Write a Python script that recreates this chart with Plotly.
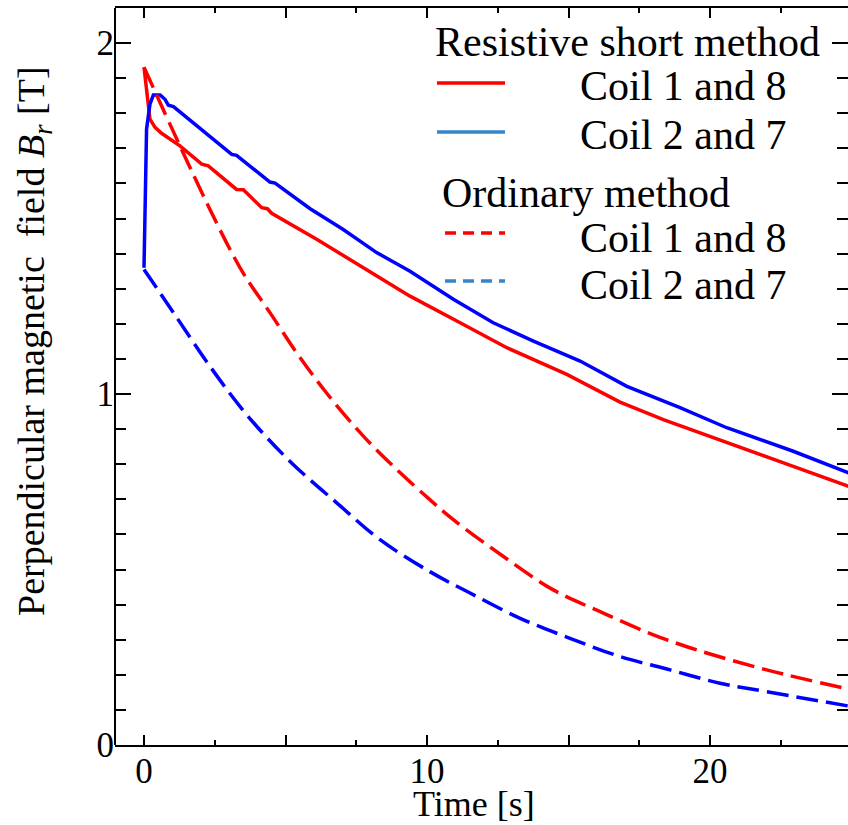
import plotly.graph_objects as go

# ---- data ----
t_rs_c18 = [0, 0.21, 0.39, 0.62, 1.27, 2.04, 2.27, 3.27, 3.51, 4.16, 4.36, 4.51, 6.10, 8.22,
            9.4, 11.17, 12.82, 14.94, 16.82, 18.35, 20.59, 22.94, 24.9]
b_rs_c18 = [1.931, 1.783, 1.760, 1.743, 1.707, 1.655, 1.650, 1.583, 1.582, 1.531, 1.528, 1.515,
            1.441, 1.336, 1.279, 1.203, 1.132, 1.056, 0.977, 0.927, 0.861, 0.794, 0.737]

t_rs_c27 = [0, 0.09, 0.21, 0.33, 0.57, 0.74, 0.86, 1.04, 3.10, 3.27, 4.45, 4.63, 5.87, 7.04,
            8.22, 9.4, 10.93, 12.34, 13.76, 15.41, 17.06, 18.94, 20.59, 22.94, 24.9]
b_rs_c27 = [1.360, 1.755, 1.826, 1.852, 1.852, 1.840, 1.823, 1.819, 1.683, 1.680, 1.604, 1.601,
            1.528, 1.469, 1.403, 1.350, 1.270, 1.203, 1.151, 1.094, 1.022, 0.961, 0.904, 0.837, 0.775]

t_or_c18 = [0, 1.27, 2.27, 3.04, 3.57, 4.45, 5.39, 6.45, 7.75, 8.93, 10.1, 10.93, 12.7, 14.46,
            16.23, 18.0, 19.53, 22.0, 24.9]
b_or_c18 = [1.931, 1.707, 1.536, 1.412, 1.336, 1.232, 1.118, 1.003, 0.880, 0.785, 0.699, 0.642,
            0.537, 0.442, 0.376, 0.314, 0.271, 0.214, 0.159]

t_or_c27 = [0, 1.04, 2.33, 3.63, 5.16, 6.81, 8.34, 10.1, 11.52, 13.29, 15.05, 16.82, 18.59,
            20.35, 22.0, 24.9]
b_or_c27 = [1.355, 1.232, 1.079, 0.941, 0.808, 0.690, 0.585, 0.494, 0.433, 0.361, 0.304, 0.252,
            0.214, 0.176, 0.152, 0.111]

x_tickvals = [0, 5, 10, 15, 20, 25]
x_ticktext = ["0", "", "10", "", "20", ""]
y_tickvals = [0, 1, 2]
y_ticktext = ["0", "1", "2"]

legend_groups = ["Resistive short method", "Ordinary method"]
legend_labels = ["Coil 1 and 8", "Coil 2 and 7"]

RED = "#ff0000"
BLUE = "#0000ff"
LEG_BLUE = "#3585c8"
FONT = "Liberation Serif"

W, H = 848, 825
L, R, T, B = 115, 0, 8, 80
PW, PH = W - L - R, H - T - B


def px(x):
    return (x - L) / PW


def py(y):
    return (T + PH - y) / PH


fig = go.Figure()
dash_main = "22px,8px"
fig.add_trace(go.Scatter(x=t_rs_c18, y=b_rs_c18, mode="lines",
                         line=dict(color=RED, width=3.5), showlegend=False))
fig.add_trace(go.Scatter(x=t_rs_c27, y=b_rs_c27, mode="lines",
                         line=dict(color=BLUE, width=3.5), showlegend=False))
fig.add_trace(go.Scatter(x=t_or_c18, y=b_or_c18, mode="lines", line_shape="spline",
                         line=dict(color=RED, width=3.5, dash=dash_main), showlegend=False))
fig.add_trace(go.Scatter(x=t_or_c27, y=b_or_c27, mode="lines", line_shape="spline",
                         line=dict(color=BLUE, width=3.5, dash=dash_main), showlegend=False))

fig.update_xaxes(range=[-1.025, 24.875], tickvals=x_tickvals, ticktext=x_ticktext,
                 ticks="inside", ticklen=10, tickwidth=2, tickcolor="black",
                 minor=dict(dtick=2.5, tick0=0, ticks="inside", ticklen=5, tickwidth=2, tickcolor="black"),
                 showline=True, linecolor="black", linewidth=2, mirror="ticks",
                 showgrid=False, zeroline=False, ticklabelstandoff=-6,
                 tickfont=dict(family=FONT, size=35, color="black"))
fig.update_yaxes(range=[0, 2.1], tickvals=y_tickvals, ticktext=y_ticktext,
                 ticks="inside", ticklen=16, tickwidth=2, tickcolor="black",
                 minor=dict(dtick=0.1, tick0=0, ticks="inside", ticklen=11, tickwidth=2, tickcolor="black"),
                 showline=False, mirror="ticks",
                 showgrid=False, zeroline=False,
                 tickfont=dict(family=FONT, size=35, color="black"))

shapes = [dict(type="line", xref="paper", yref="paper", x0=0, x1=0, y0=0, y1=1,
               line=dict(color="black", width=2))]
annotations = []

# axis titles
annotations.append(dict(text="Time [s]", xref="paper", yref="paper", x=px(474), y=py(804),
                        xanchor="center", yanchor="middle", showarrow=False,
                        font=dict(family=FONT, size=36, color="black")))
annotations.append(dict(text="Perpendicular magnetic&nbsp; field <i>B</i><sub><i>r</i></sub> [T]",
                        xref="paper", yref="paper", x=px(34), y=py(341), textangle=-90,
                        xanchor="center", yanchor="middle", showarrow=False,
                        font=dict(family=FONT, size=38, color="black")))

# legend built from text + sample lines
LF = 42
annotations.append(dict(text=legend_groups[0], xref="paper", yref="paper", x=px(433), y=py(42),
                        xanchor="left", yanchor="middle", showarrow=False,
                        font=dict(family=FONT, size=LF, color="black")))
annotations.append(dict(text=legend_groups[1], xref="paper", yref="paper", x=px(440), y=py(193),
                        xanchor="left", yanchor="middle", showarrow=False,
                        font=dict(family=FONT, size=LF, color="black")))
rows = [(86, legend_labels[0], RED, "solid", 83),
        (135, legend_labels[1], LEG_BLUE, "solid", 132),
        (238, legend_labels[0], RED, "11px,7px", 233),
        (285, legend_labels[1], LEG_BLUE, "11px,7px", 281)]
for ty, label, col, dash, ly in rows:
    annotations.append(dict(text=label, xref="paper", yref="paper", x=px(578), y=py(ty),
                            xanchor="left", yanchor="middle", showarrow=False,
                            font=dict(family=FONT, size=LF, color="black")))
    x0 = 437 if dash == "solid" else 445
    shapes.append(dict(type="line", xref="paper", yref="paper", x0=px(x0), x1=px(505),
                       y0=py(ly), y1=py(ly), line=dict(color=col, width=3.5, dash=dash)))

fig.update_layout(width=W, height=H, margin=dict(l=L, r=R, t=T, b=B, pad=0),
                  plot_bgcolor="white", paper_bgcolor="white",
                  shapes=shapes, annotations=annotations, showlegend=False)

fig.write_html("out.html")
